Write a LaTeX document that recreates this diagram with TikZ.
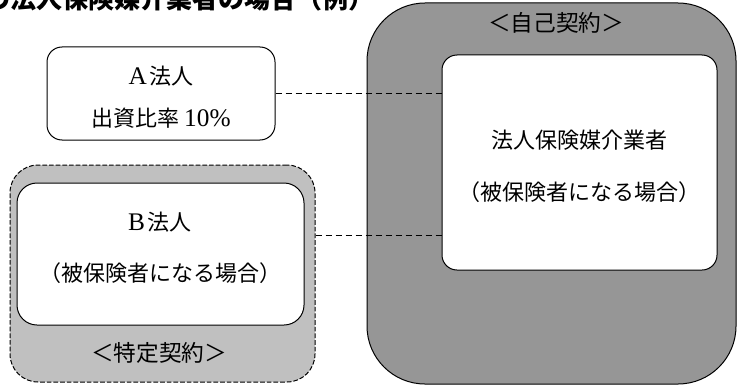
\documentclass[tikz,border=0pt]{standalone}
\usepackage{fontspec}
\newfontfamily\cjk{Noto Sans CJK JP}
\newfontfamily\lat{Liberation Serif}
\newcommand{\latin}[1]{{\lat\fontsize{19}{21}\selectfont #1}}
\definecolor{darkfill}{RGB}{150,150,150}
\definecolor{lightfill}{RGB}{192,192,192}
\begin{document}
\begin{tikzpicture}[x=0.75pt,y=-0.75pt,
  whitebox/.style={draw=black,line width=0.75pt,fill=white,inner sep=0pt},
  txt/.style={inner sep=0pt,font=\cjk\fontsize{16.5}{18}\selectfont},
  lbl/.style={inner sep=0pt,font=\cjk\fontsize{17}{19}\selectfont},
  conn/.style={draw=black,line width=0.75pt,dash pattern=on 5pt off 2.5pt}]
\useasboundingbox (0,0) rectangle (737,385);
\clip (0,0) rectangle (737,385);
% title (partly cut off, as in the reference)
\node[anchor=base west,inner sep=0pt,font=\cjk\bfseries\fontsize{19.5}{21}\selectfont] (title) at (-16,9) {の法人保険媒介業者の場合（例）};
% self contract
\node[draw=black,line width=0.75pt,fill=darkfill,inner sep=0pt,rounded corners=43.5pt,
  minimum width=276.75pt,minimum height=285.75pt] (self) at (551.5,193.5) {};
\node[lbl] (selflbl) at (556,23) {＜自己契約＞};
\node[whitebox,rounded corners=11.25pt,minimum width=206.25pt,minimum height=161.25pt] (W) at (579.5,162.5) {};
\node[txt] (w1) at (579.5,140) {法人保険媒介業者};
\node[txt] (w2) at (579.5,192) {（被保険者になる場合）};
% A
\node[whitebox,rounded corners=11.25pt,minimum width=171pt,minimum height=69.75pt] (A) at (161,93.5) {};
\node[txt] (a1) at (161,76) {\latin{A}\kern2pt 法人};
\node[txt] (a2) at (161,118) {出資比率 \latin{10\%}};
% specific contract
\node[draw=black,line width=0.75pt,dash pattern=on 3.5pt off 1.5pt,fill=lightfill,inner sep=0pt,rounded corners=21pt,
  minimum width=228.75pt,minimum height=162.75pt] (Bout) at (162.5,273.5) {};
\node[whitebox,rounded corners=15pt,minimum width=215.25pt,minimum height=106.5pt] (B) at (160.5,254) {};
\node[txt] (b1) at (160,222) {\latin{B}\kern2pt 法人};
\node[txt] (b2) at (160,273) {（被保険者になる場合）};
\node[lbl] (speclbl) at (159,353) {＜特定契約＞};
% connectors
\coordinate (c2) at (315,235);
\draw[conn] (A.east) -- (A.east -| W.west);
\draw[conn] (Bout.east |- c2) -- (W.west |- c2);
\end{tikzpicture}
\end{document}
